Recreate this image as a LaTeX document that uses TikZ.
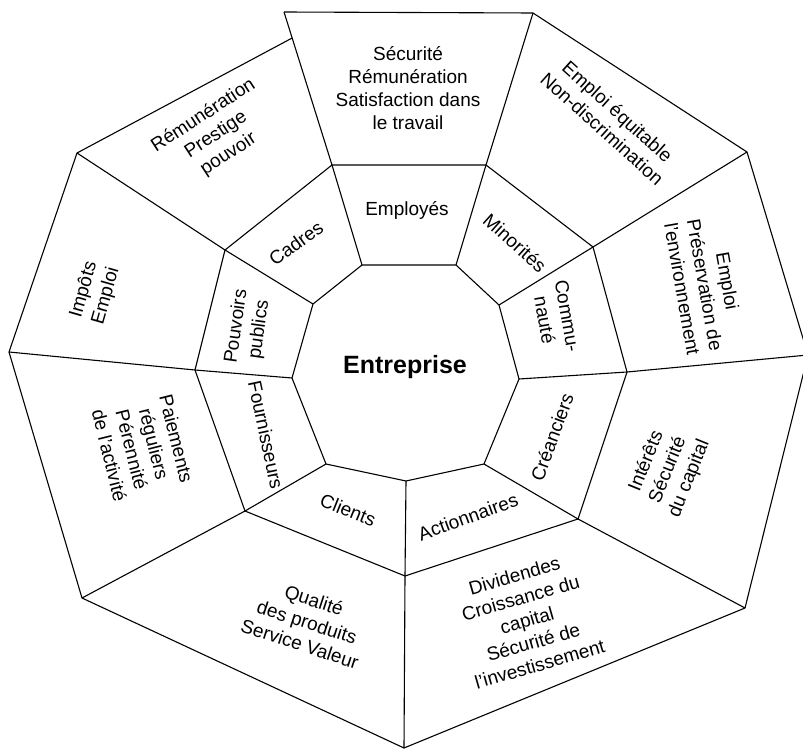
\documentclass[tikz,border=0pt]{standalone}
\usepackage{fontspec}
\setmainfont{Liberation Sans}
\usetikzlibrary{calc}
\begin{document}
\begin{tikzpicture}[x=1pt,y=-1pt]
    \tikzstyle{ring}=[line width=1.1pt, black, line join=round]
    \tikzstyle{lbl}=[font=\fontsize{19}{23}\selectfont, align=center, inner sep=0pt]
    \useasboundingbox (0,0) rectangle (803,749);
    \clip (0,0) rectangle (803,749);
    % corners of the three rings
    \foreach \n/\x/\y in {1/362/265, 2/456/265, 3/499/305, 4/519/379, 5/484/464,
                          6/406/481, 7/326/464, 8/292/378, 9/313/304}
        \coordinate (i\n) at (\x,\y);
    \foreach \n/\x/\y in {1/332/165, 2/486/165, 3/593/247, 4/627/372, 5/578/519,
                          6/405/576, 7/245/511, 8/195/370, 9/225/250}
        \coordinate (m\n) at (\x,\y);
    \foreach \n/\x/\y in {1/284/12, 2/533/13, 3/747/152, 4/808/355, 5/745/608,
                          6/404/748, 7/82/598, 8/9/352, 9/77/153}
        \coordinate (o\n) at (\x,\y);
    \coordinate (o1s) at ($(m1)!0.83!(o1)$);
    \draw[ring] (i1) -- (i2) -- (i3) -- (i4) -- (i5) -- (i6) -- (i7) -- (i8) -- (i9) -- cycle;
    \draw[ring] (m1) -- (m2) -- (m3) -- (m4) -- (m5) -- (m6) -- (m7) -- (m8) -- (m9) -- cycle;
    \draw[ring] (o1) -- (o2) -- (o3) -- (o4) -- (o5) -- (o6) -- (o7) -- (o8) -- (o9) -- (o1s);
    \foreach \k in {1,...,9}
        \draw[ring] (i\k) -- (m\k) -- (o\k);

    \node[lbl, font=\fontsize{25}{30}\selectfont\bfseries] (entreprise) at (405,367) {Entreprise};

    % stakeholders
    \node[lbl] (employes) at (407,210) {Employés};
    \node[lbl, rotate=-42] (minorites) at (515,243) {Minorités};
    \node[lbl, rotate=-80] (communaute) at (556,318) {Commu-\\nauté};
    \node[lbl, rotate=70] (creanciers) at (552,437) {Créanciers};
    \node[lbl, rotate=20] (actionnaires) at (468,517) {Actionnaires};
    \node[lbl, rotate=-22] (clients) at (348,510) {Clients};
    \node[lbl, rotate=-78] (fournisseurs) at (266,435) {Fournisseurs};
    \node[lbl, rotate=82] (pouvoirs) at (248,328) {Pouvoirs\\publics};
    \node[lbl, rotate=36] (cadres) at (296,243) {Cadres};

    % expectations
    \node[lbl] (attEmployes) at (408,88) {Sécurité\\Rémunération\\Satisfaction dans\\le travail};
    \node[lbl, rotate=-42] (attMinorites) at (610,120) {Emploi équitable\\Non-discrimination};
    \node[lbl, rotate=-80] (attCommunaute) at (705,285) {Emploi\\Préservation de\\l'environnement};
    \node[lbl, rotate=68] (attCreanciers) at (668,470) {Intérêts\\Sécurité\\du capital};
    \node[lbl, rotate=16] (attActionnaires) at (527,620) {Dividendes\\Croissance du\\capital\\Sécurité de\\l'investissement};
    \node[lbl, rotate=-18] (attClients) at (307,622) {Qualité\\des produits\\Service Valeur};
    \node[lbl, rotate=-76] (attFournisseurs) at (143,447) {Paiements\\réguliers\\Pérennité\\de l'activité};
    \node[lbl, rotate=74] (attPouvoirs) at (95,293) {Impôts\\Emploi};
    \node[lbl, rotate=33] (attCadres) at (216,135) {Rémunération\\Prestige\\pouvoir};
\end{tikzpicture}
\end{document}
